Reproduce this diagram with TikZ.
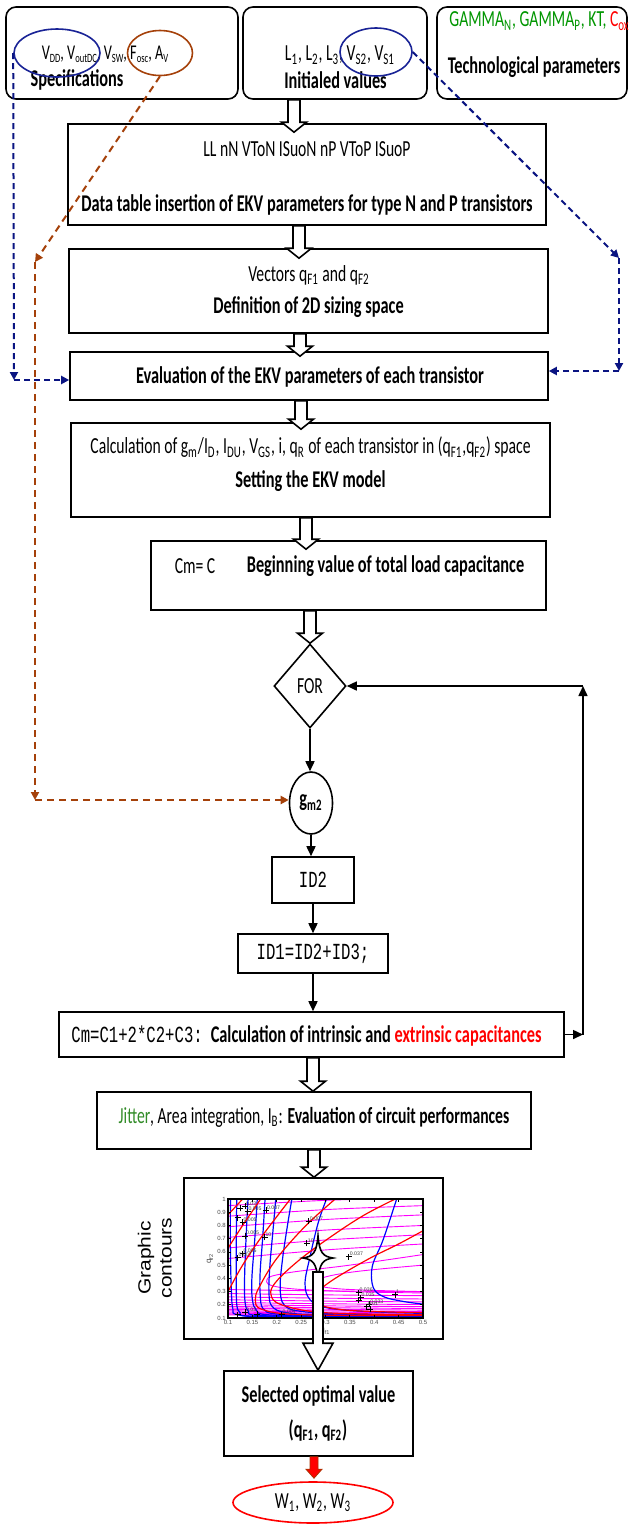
\documentclass[tikz,border=0pt]{standalone}
\usepackage{fontspec}
\setmainfont{Carlito}[FakeStretch=0.68]
\newfontfamily\codefont{Liberation Mono}[FakeStretch=0.68]
\newfontfamily\arialfont{Liberation Sans}
\usetikzlibrary{shapes.geometric, arrows.meta, calc}

\definecolor{specblue}{RGB}{25,35,150}
\definecolor{linkblue}{RGB}{10,20,130}
\definecolor{rust}{RGB}{165,65,10}
\definecolor{techgreen}{RGB}{0,150,0}
\definecolor{jitgreen}{RGB}{50,140,40}
\definecolor{plotblue}{RGB}{0,0,255}
\definecolor{plotred}{RGB}{255,0,0}
\definecolor{plotmag}{RGB}{255,0,255}
\definecolor{darkred}{RGB}{170,50,0}

\newcommand\dn[1]{\textsubscript{#1}}
% smaller lowered index used in the specification list
\newcommand\dns[1]{\raisebox{-0.3ex}{\fontsize{6.3}{7}\selectfont #1}}

\tikzset{
  box/.style={draw, line width=0.8pt, fill=white, inner sep=0pt},
  rbox/.style={box, rounded corners=5pt},
  txt/.style={inner sep=0pt, font=\fontsize{11.5}{13.8}\selectfont},
  btxt/.style={inner sep=0pt, font=\fontsize{12}{14.4}\selectfont\bfseries},
  mtxt/.style={inner sep=0pt, font=\fontsize{11.5}{13.8}\selectfont\codefont},
  hollow/.style={draw, line width=0.8pt, fill=white, line join=miter},
  flow/.style={line width=0.8pt, -{Triangle[length=5pt,width=4.5pt]}},
  bluelink/.style={linkblue, line width=1pt, dash pattern=on 3pt off 2pt, -{Triangle[length=4pt,width=4pt]}},
  rustlink/.style={rust, line width=1pt, dash pattern=on 3.5pt off 2.5pt, -{Triangle[length=4pt,width=4pt]}},
  ticklab/.style={inner sep=0pt, font=\arialfont\fontsize{3}{3.5}\selectfont, text=black!70},
  curvelab/.style={inner sep=0.3pt, anchor=south west, font=\arialfont\fontsize{2.6}{3}\selectfont, text=black!75},
}

% hollow block arrow: #1 column, #2 source node, #3 target node, #4 depth of the tip inside the target
\newcommand\hollowarrow[4]{%
  \draw[hollow] let \p1=(#2.south -| #1), \p2=(#3.north -| #1) in
    (\x1-3pt,\y1) -- (\x1-3pt,\y2+5pt-#4) -- (\x1-6.25pt,\y2+5pt-#4)
    -- (\x1,\y2-#4) -- (\x1+6.25pt,\y2+5pt-#4) -- (\x1+3pt,\y2+5pt-#4)
    -- (\x1+3pt,\y1) -- cycle;}

\begin{document}
\begin{tikzpicture}[x=0.5pt, y=-0.5pt]
\useasboundingbox (0,0) rectangle (628,1528);
\fill[white] (0,0) rectangle (628,1528);

% ---------- input boxes ----------
\node[rbox, minimum width=116pt, minimum height=46pt] (spec) at (122,53) {};
\node[rbox, minimum width=92pt, minimum height=46pt] (init) at (335,53) {};
\node[rbox, minimum width=95pt, minimum height=46pt] (tech) at (532,53) {};

\node[txt, font=\fontsize{10.5}{12.5}\selectfont] (spec1) at (105,54) {V\dns{DD}, V\dns{outDC}, V\dns{SW}, F\dns{osc}, A\dns{V}};
\node[btxt] (spec2) at (77,80) {Specifications};
\node[txt] (init1) at (340,55) {L\dn{1}, L\dn{2}, L\dn{3}, V\dn{S2}, V\dn{S1}};
\node[btxt] (init2) at (335.5,80) {Initialed values};
\node[txt, anchor=west] (tech1) at (449,21) {{\color{techgreen}GAMMA\dn{N}, GAMMA\dn{P}, KT, }{\color{red}C\dn{ox}}};
\node[btxt] (tech2) at (534,67) {Technological parameters};

\node[ellipse, draw=specblue, line width=0.8pt, minimum width=43pt, minimum height=24pt, inner sep=0pt] (vdd) at (57,53) {};
\node[ellipse, draw=rust, line width=0.8pt, minimum width=32.5pt, minimum height=22.5pt, inner sep=0pt] (fosc) at (160,53) {};
\node[ellipse, draw=specblue, line width=0.8pt, minimum width=36pt, minimum height=24pt, inner sep=0pt] (vs) at (376,52) {};

% ---------- main flow ----------
\node[box, minimum width=239pt, minimum height=50.5pt] (data) at (307,174.5) {};
\node[txt] (data1) at (307,149) {LL nN VToN ISuoN nP VToP ISuoP};
\node[btxt] (data2) at (307,205) {Data table insertion of EKV parameters for type N and P transistors};

\node[box, minimum width=239.5pt, minimum height=42pt] (vec) at (308.5,291) {};
\node[txt] (vec1) at (309,275) {Vectors q\dn{F1} and q\dn{F2}};
\node[btxt] (vec2) at (308.5,307) {Definition of 2D sizing space};

\node[box, minimum width=239pt, minimum height=24pt] (eval) at (309,376) {};
\node[btxt] (eval1) at (310,377) {Evaluation of the EKV parameters of each transistor};

\node[box, minimum width=239.5pt, minimum height=47pt] (calc) at (310.5,470) {};
\node[txt] (calc1) at (310.5,447) {Calculation of g\dn{m}/I\dn{D}, I\dn{DU}, V\dn{GS}, i, q\dn{R} of each transistor in (q\dn{F1},q\dn{F2}) space};
\node[btxt] (calc2) at (310.5,481) {Setting the EKV model};

\node[box, minimum width=197.5pt, minimum height=34.5pt] (cm) at (348.5,575.5) {};
\node[txt] (cm1) at (195,566) {Cm= C};
\node[btxt] (cm2) at (385.5,566) {Beginning value of total load capacitance};

\node[diamond, draw, line width=0.8pt, fill=white, minimum width=36pt, minimum height=42pt, inner sep=0pt, txt] (for) at (310,686) {FOR};

\node[ellipse, draw, line width=0.8pt, fill=white, minimum width=21.5pt, minimum height=31pt, inner sep=0pt, btxt] (gm2) at (311,803) {g\dn{m2}};

\node[box, minimum width=41pt, minimum height=23pt, mtxt] (id2) at (313,880) {ID2};
\node[box, minimum width=75pt, minimum height=19.5pt, mtxt] (id1) at (313,953.5) {ID1=ID2+ID3;};

\node[box, minimum width=252.5pt, minimum height=22.5pt] (cmc) at (311.5,1034.5) {};
\node[txt, anchor=west] (cmc1) at (71,1036) {{\codefont Cm=C1+2*C2+C3:}\hspace{4pt}{\fontsize{12}{14.4}\selectfont\bfseries Calculation of intrinsic and \textcolor{red}{extrinsic capacitances}}};

\node[box, minimum width=217pt, minimum height=28.5pt] (jit) at (314,1120.5) {};
\node[txt] (jit1) at (314,1117) {\textcolor{jitgreen}{Jitter}, Area integration, I\dn{B}: \textbf{Evaluation of circuit performances}};

\node[box, minimum width=129.5pt, minimum height=80.5pt] (graph) at (313.5,1258.5) {};
\node[rotate=90, inner sep=0pt, font=\arialfont\fontsize{10.5}{12.5}\selectfont] (gclab) at (157,1258) {\scalebox{1}[0.84]{\begin{tabular}{@{}c@{}}Graphic\\contours\end{tabular}}};

\node[box, minimum width=94.5pt, minimum height=42.5pt] (sel) at (318.5,1413.5) {};
\node[btxt] (sel1) at (318.5,1396) {Selected optimal value};
\node[btxt] (sel2) at (318,1430) {(q\dn{F1}, q\dn{F2})};

\node[ellipse, draw=red, line width=0.8pt, fill=white, minimum width=80pt, minimum height=20.5pt, inner sep=0pt, txt] (w) at (313,1502.5) {W\dn{1}, W\dn{2}, W\dn{3}};

% ---------- contour plot in the (qF1,qF2) plane ----------
\coordinate (po) at (179.25,1331.22);
\begin{scope}[shift={(po)}, x=243.75pt, y=66.11pt]
  \begin{scope}
    \clip (0.1,0.1) rectangle (0.5,1);
    % magenta family
    \foreach \a/\b in {0.95/1.01, 0.87/0.95, 0.79/0.88, 0.71/0.80, 0.63/0.73, 0.55/0.66}
      \draw[plotmag, line width=0.45pt] plot[smooth] coordinates {(0.1,\a) (0.3,{(\a+\b)/2+0.01}) (0.5,\b)};
    \draw[plotmag, line width=0.45pt] plot[smooth, tension=0.7] coordinates {(0.5,0.58) (0.35,0.5) (0.22,0.44) (0.18,0.39) (0.21,0.33) (0.35,0.3) (0.5,0.29)};
    \draw[plotmag, line width=0.45pt] plot[smooth, tension=0.7] coordinates {(0.5,0.5) (0.36,0.45) (0.29,0.4) (0.28,0.36) (0.33,0.32) (0.5,0.3)};
    \foreach \a in {0.305,0.275,0.25,0.228,0.208,0.192,0.178,0.166,0.155,0.145,0.136,0.128,0.121,0.114}
      \draw[plotmag, line width=0.45pt] (0.1,\a+0.01) .. controls (0.25,\a+0.002) and (0.35,\a-0.003) .. (0.5,\a-0.006);
    % blue family
    \begin{scope}[plotblue, line width=0.6pt]
      \draw plot[smooth, tension=0.6] coordinates {(0.446,1) (0.418,0.69) (0.396,0.49) (0.398,0.33) (0.42,0.26) (0.46,0.225) (0.5,0.205)};
      \draw plot[smooth, tension=0.6] coordinates {(0.302,1) (0.285,0.82) (0.268,0.56) (0.258,0.36) (0.268,0.24) (0.30,0.18) (0.38,0.15) (0.5,0.135)};
      \draw plot[smooth, tension=0.6] coordinates {(0.231,1) (0.222,0.8) (0.212,0.55) (0.207,0.33) (0.215,0.2) (0.25,0.15) (0.35,0.13) (0.5,0.125)};
      \draw plot[smooth, tension=0.6] coordinates {(0.198,1) (0.192,0.75) (0.186,0.5) (0.184,0.3) (0.19,0.19) (0.22,0.14) (0.3,0.125) (0.5,0.118)};
      \draw plot[smooth, tension=0.6] coordinates {(0.176,1) (0.171,0.7) (0.166,0.45) (0.166,0.28) (0.172,0.17) (0.2,0.13) (0.3,0.117) (0.5,0.113)};
      \draw plot[smooth, tension=0.6] coordinates {(0.160,1) (0.155,0.7) (0.149,0.4) (0.150,0.24) (0.158,0.16) (0.18,0.125) (0.3,0.112) (0.5,0.109)};
      \draw plot[smooth, tension=0.6] coordinates {(0.141,1) (0.137,0.7) (0.134,0.4) (0.135,0.22) (0.142,0.15) (0.16,0.12) (0.3,0.108) (0.5,0.106)};
      \draw plot[smooth, tension=0.6] coordinates {(0.118,1) (0.117,0.7) (0.117,0.4) (0.118,0.2) (0.125,0.14) (0.14,0.115) (0.3,0.105) (0.5,0.104)};
      \draw plot[smooth, tension=0.6] coordinates {(0.105,1) (0.105,0.6) (0.107,0.3) (0.11,0.17) (0.12,0.125) (0.2,0.106) (0.5,0.102)};
    \end{scope}
    % red family
    \begin{scope}[plotred, line width=0.6pt]
      \draw plot[smooth, tension=0.6] coordinates {(0.5,0.14) (0.36,0.155) (0.30,0.185) (0.277,0.23) (0.285,0.3) (0.32,0.4) (0.39,0.55) (0.45,0.66) (0.5,0.76)};
      \draw plot[smooth, tension=0.6] coordinates {(0.5,0.125) (0.3,0.14) (0.21,0.2) (0.188,0.28) (0.2,0.38) (0.25,0.55) (0.317,0.73) (0.38,0.88) (0.443,1.0)};
      \draw plot[smooth, tension=0.6] coordinates {(0.5,0.118) (0.25,0.125) (0.17,0.165) (0.156,0.24) (0.165,0.34) (0.2,0.55) (0.26,0.8) (0.32,1.0)};
      \draw plot[smooth, tension=0.6] coordinates {(0.1,0.3) (0.13,0.5) (0.17,0.72) (0.228,1.0)};
      \draw plot[smooth, tension=0.6] coordinates {(0.1,0.628) (0.13,0.8) (0.167,1.0)};
      \draw plot[smooth, tension=0.6] coordinates {(0.1,0.88) (0.13,1.0)};
    \end{scope}
    % marked points
    \foreach \px/\py/\lab in {0.348/0.565/0.037, 0.266/0.83/0.007, 0.262/0.665/10, 0.368/0.29/0.036,
        0.372/0.255/0.035, 0.368/0.235/, 0.39/0.205/0.033, 0.385/0.185/0.01, 0.392/0.165/,
        0.443/0.277/1, 0.135/0.945/0.03, 0.125/0.93/, 0.14/0.905/0.005, 0.178/0.915/0.007,
        0.12/0.86/, 0.13/0.825/0.005, 0.135/0.72/0.005, 0.175/0.71/10, 0.13/0.585/0.005,
        0.12/0.555/0.007, 0.135/0.145/0.03, 0.12/0.125/, 0.16/0.13/, 0.21/0.125/0.004, 0.28/0.115/}
    {
      \draw[black, line width=0.5pt] (\px,\py) ++(-1.5pt,0) -- ++(3pt,0) (\px,\py) ++(0,-1.5pt) -- ++(0,3pt);
      \node[curvelab] at (\px,\py) {\lab};
    }
  \end{scope}
  \draw[line width=0.6pt] (0.1,0.1) rectangle (0.5,1);
  \foreach \yv in {0.1,0.2,0.3,0.4,0.5,0.6,0.7,0.8,0.9,1}
  {
    \draw[line width=0.4pt] (0.1,\yv) -- ++(1.5pt,0) (0.5,\yv) -- ++(-1.5pt,0);
    \node[ticklab, anchor=east] at ([xshift=-1pt]0.1,\yv) {\yv};
  }
  \foreach \xv in {0.1,0.15,0.2,0.25,0.3,0.35,0.4,0.45,0.5}
  {
    \draw[line width=0.4pt] (\xv,0.1) -- ++(0,1.5pt) (\xv,1) -- ++(0,-1.5pt);
    \node[ticklab, anchor=north] at ([yshift=-1pt]\xv,0.1) {\xv};
  }
  \node[ticklab, rotate=90, font=\arialfont\fontsize{4}{4.5}\selectfont] at ([xshift=-9pt]0.1,0.55) {q\dn{f2}};
  \node[ticklab, font=\arialfont\fontsize{4}{4.5}\selectfont] at ([yshift=-6.5pt]0.3,0.1) {q\dn{f1}};
\end{scope}

% selected point in the plane and its hollow arrow
\coordinate (star) at (318,1258);
\draw[fill=white, line width=0.8pt, shift={(star)}]
  (0,-22) .. controls (1.5,-5) and (5,-1.5) .. (15,0)
  .. controls (5,1.5) and (1.5,5) .. (0,22)
  .. controls (-1.5,5) and (-5,1.5) .. (-15,0)
  .. controls (-5,-1.5) and (-1.5,-5) .. cycle;
\draw[hollow] let \p1=(star), \p2=(sel.north) in
  (\x1-2.5pt,\y1-7pt) -- (\x1-2.5pt,\y2+13.5pt) -- (\x1-7.5pt,\y2+13.5pt) -- (\x1,\y2)
  -- (\x1+7.5pt,\y2+13.5pt) -- (\x1+2.5pt,\y2+13.5pt) -- (\x1+2.5pt,\y1-7pt) -- cycle;

% ---------- hollow block arrows between the stages ----------
\coordinate (a1) at (294,0);
\coordinate (a2) at (299,0);
\coordinate (a3) at (300,0);
\coordinate (a4) at (301,0);
\coordinate (a5) at (306,0);
\coordinate (a6) at (310,0);
\coordinate (a7) at (313,0);
\coordinate (a8) at (314,0);
\hollowarrow{a1}{init}{data}{4.5pt}
\hollowarrow{a2}{data}{vec}{5pt}
\hollowarrow{a3}{vec}{eval}{2.5pt}
\hollowarrow{a4}{eval}{calc}{3.5pt}
\hollowarrow{a5}{calc}{cm}{4.5pt}
\hollowarrow{a6}{cm}{for}{0pt}
\hollowarrow{a7}{cmc}{jit}{0pt}
\hollowarrow{a8}{jit}{graph}{0pt}

% red output arrow
\coordinate (ra) at (314,0);
\draw[fill=red, draw=darkred, line width=0.4pt, line join=miter] let \p1=(sel.south -| ra), \p2=(w.north -| ra) in
  (\x1-2pt,\y1) -- (\x1-2pt,\y2+6pt) -- (\x1-4pt,\y2+6pt) -- (\x1,\y2+1.5pt)
  -- (\x1+4pt,\y2+6pt) -- (\x1+2pt,\y2+6pt) -- (\x1+2pt,\y1) -- cycle;

% ---------- solid flow and loop ----------
\draw[flow] (for.south) -- (for.south |- gm2.north);
\draw[flow] (gm2.south) -- (gm2.south |- id2.north);
\draw[flow] (id2.south) -- (id1.north);
\draw[flow] (id1.south) -- (id1.south |- cmc.north);
\coordinate (fb1) at (583,1034.5);
\coordinate (fb2) at (583,686);
\draw[flow] (cmc.east) -- (fb1);
\draw[flow] (fb1) -- (fb2);
\draw[flow] (fb2) -- (for.east);

% ---------- dashed parameter links ----------
\coordinate (bl) at (14,380);
\draw[bluelink] (vdd.west) -- (bl);
\draw[bluelink] (bl) -- (bl -| eval.west);

\coordinate (br1) at (619,258);
\coordinate (br2) at (619,371);
\draw[bluelink] (vs.east) -- (br1);
\draw[bluelink] (br1) -- (br2);
\draw[bluelink] (br2) -- (br2 -| eval.east);

\coordinate (bw1) at (35,262);
\coordinate (bw2) at (35,800);
\draw[rustlink] (fosc.south) -- (bw1);
\draw[rustlink] (bw1) -- (bw2);
\draw[rustlink] (bw2) -- (bw2 -| gm2.west);
\end{tikzpicture}
\end{document}
